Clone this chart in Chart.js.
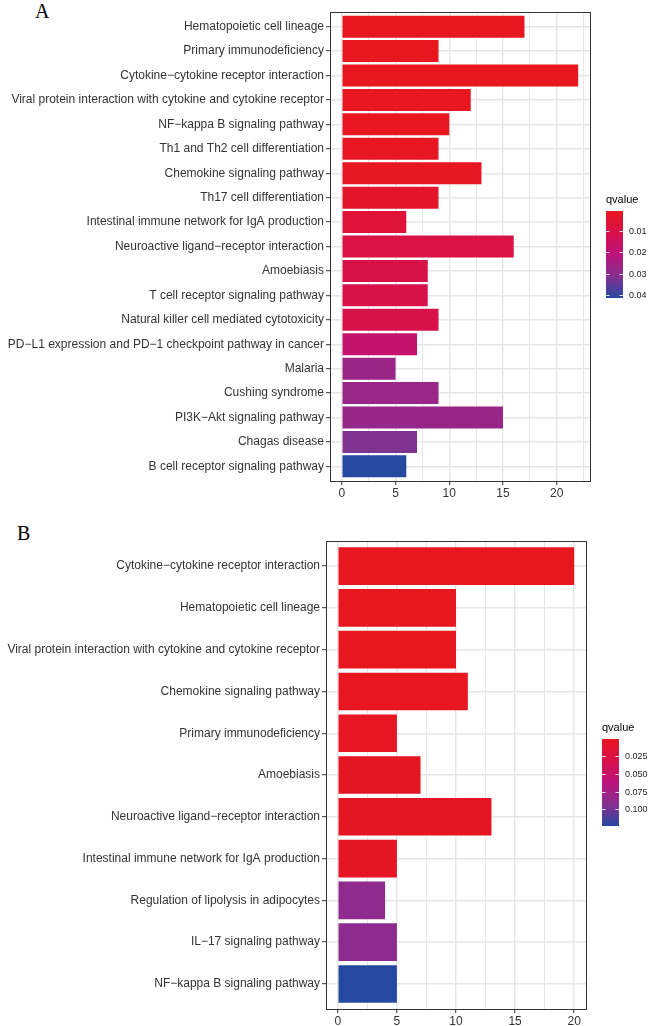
<!DOCTYPE html>
<html>
<head>
<meta charset="utf-8">
<script src="https://cdn.jsdelivr.net/npm/chart.js@4.4.1/dist/chart.umd.min.js"></script>
<style>
  html, body { margin: 0; padding: 0; background: #fff; overflow: hidden; }
  body { width: 649px; height: 1026px; position: relative; }
  canvas { position: absolute; left: 0; }
  .panel-tag { position: absolute; font-family: "Liberation Serif", "Times New Roman", serif; font-size: 20px; line-height: 1; color: #000; }
</style>
</head>
<body>
<div class="panel-tag" style="left:35px; top:1px;">A</div>
<canvas id="chart-a" width="649" height="498" style="top:0px;"></canvas>
<div class="panel-tag" style="left:17px; top:523px;">B</div>
<canvas id="chart-b" width="649" height="497" style="top:529px;"></canvas>

<script>
// Panel A - KEGG terms, gene counts, qvalues
const labelsA = [
  "Hematopoietic cell lineage",
  "Primary immunodeficiency",
  "Cytokine\u2212cytokine receptor interaction",
  "Viral protein interaction with cytokine and cytokine receptor",
  "NF\u2212kappa B signaling pathway",
  "Th1 and Th2 cell differentiation",
  "Chemokine signaling pathway",
  "Th17 cell differentiation",
  "Intestinal immune network for IgA production",
  "Neuroactive ligand\u2212receptor interaction",
  "Amoebiasis",
  "T cell receptor signaling pathway",
  "Natural killer cell mediated cytotoxicity",
  "PD\u2212L1 expression and PD\u22121 checkpoint pathway in cancer",
  "Malaria",
  "Cushing syndrome",
  "PI3K\u2212Akt signaling pathway",
  "Chagas disease",
  "B cell receptor signaling pathway"
];
const countA = [17, 9, 22, 12, 10, 9, 13, 9, 6, 16, 8, 8, 9, 7, 5, 9, 15, 7, 6];
const qvalueA = [0.0005, 0.0007, 0.0008, 0.0010, 0.0012, 0.0013, 0.0015, 0.0035, 0.0065, 0.0095,
                 0.0100, 0.0102, 0.0105, 0.0175, 0.0275, 0.0277, 0.0279, 0.0320, 0.0415];
const gridA = [0, 2.5, 5, 7.5, 10, 12.5, 15, 17.5, 20, 22.5];
const legendTicksA = [0.01, 0.02, 0.03, 0.04];
const legendLabelsA = ["0.01", "0.02", "0.03", "0.04"];

// Panel B
const labelsB = [
  "Cytokine\u2212cytokine receptor interaction",
  "Hematopoietic cell lineage",
  "Viral protein interaction with cytokine and cytokine receptor",
  "Chemokine signaling pathway",
  "Primary immunodeficiency",
  "Amoebiasis",
  "Neuroactive ligand\u2212receptor interaction",
  "Intestinal immune network for IgA production",
  "Regulation of lipolysis in adipocytes",
  "IL\u221217 signaling pathway",
  "NF\u2212kappa B signaling pathway"
];
const countB = [20, 10, 10, 11, 5, 7, 13, 5, 4, 5, 5];
const qvalueB = [0.0003, 0.0008, 0.0012, 0.0015, 0.0030, 0.0040, 0.0045, 0.0060, 0.0880, 0.0890, 0.1240];
const gridB = [0, 2.5, 5, 7.5, 10, 12.5, 15, 17.5, 20];
const legendTicksB = [0.025, 0.05, 0.075, 0.1];
const legendLabelsB = ["0.025", "0.050", "0.075", "0.100"];

// red -> blue gradient
const gradientStops = [
  [0.00, [232, 22, 30]],
  [0.25, [216, 17, 76]],
  [0.50, [187, 18, 124]],
  [0.75, [135, 48, 144]],
  [1.00, [37, 73, 160]]
];

function gradientColor(t) {
  t = Math.max(0, Math.min(1, t));
  for (let i = 1; i < gradientStops.length; i++) {
    const [t1, c1] = gradientStops[i];
    const [t0, c0] = gradientStops[i - 1];
    if (t <= t1) {
      const f = (t - t0) / (t1 - t0);
      const c = c0.map((v, k) => Math.round(v + (c1[k] - v) * f));
      return `rgb(${c[0]},${c[1]},${c[2]})`;
    }
  }
  const c = gradientStops[gradientStops.length - 1][1];
  return `rgb(${c[0]},${c[1]},${c[2]})`;
}

Chart.defaults.font.family = '"Liberation Sans", Arial, sans-serif';
Chart.defaults.animation = false;

// panel border + qvalue colour bar
const framePlugin = {
  id: "frame",
  afterDatasetsDraw(chart, args, opts) {
    const { ctx, chartArea: a } = chart;
    ctx.save();
    ctx.strokeStyle = "#333";
    ctx.lineWidth = 1;
    ctx.strokeRect(Math.round(a.left) + 0.5, Math.round(a.top) + 0.5,
                   Math.round(a.right - a.left), Math.round(a.bottom - a.top));

    const mid = (a.top + a.bottom) / 2;
    const barX = Math.round(a.right) + 16;
    const barW = 17;
    const barTop = Math.round(mid - 36);
    const barH = 87;

    ctx.fillStyle = "#000";
    ctx.font = '11px "Liberation Sans", Arial, sans-serif';
    ctx.textBaseline = "middle";
    ctx.textAlign = "left";
    ctx.fillText("qvalue", barX, mid - 47);

    for (let i = 0; i < barH; i++) {
      ctx.fillStyle = gradientColor((i + 0.5) / barH);
      ctx.fillRect(barX, barTop + i, barW, 1);
    }

    ctx.font = '9px "Liberation Sans", Arial, sans-serif';
    opts.ticks.forEach((v, i) => {
      const y = Math.round(barTop + (v - opts.qmin) / (opts.qmax - opts.qmin) * barH) + 0.5;
      ctx.strokeStyle = "rgba(255,255,255,0.85)";
      ctx.beginPath();
      ctx.moveTo(barX, y); ctx.lineTo(barX + 3.5, y);
      ctx.moveTo(barX + barW - 3.5, y); ctx.lineTo(barX + barW, y);
      ctx.stroke();
      ctx.fillStyle = "#222";
      ctx.fillText(opts.labels[i], barX + barW + 6, y);
    });
    ctx.restore();
  }
};

function makeChart(id, labels, counts, qvalues, gridVals, legendTicks, legendLabels, plotLeft, padRight) {
  const qmin = Math.min(...qvalues);
  const qmax = Math.max(...qvalues);
  const pad = Math.max(...counts) * 0.05;
  const colors = qvalues.map(q => gradientColor((q - qmin) / (qmax - qmin)));

  return new Chart(document.getElementById(id), {
    type: "bar",
    data: {
      datasets: [{
        data: counts.map((c, i) => ({ x: c, y: i })),
        backgroundColor: colors,
        borderWidth: 0,
        barPercentage: 0.9,
        categoryPercentage: 1
      }]
    },
    options: {
      indexAxis: "y",
      responsive: false,
      layout: { padding: { top: 12, right: padRight, left: 0, bottom: 0 } },
      plugins: {
        legend: { display: false },
        tooltip: { enabled: false },
        frame: { qmin, qmax, ticks: legendTicks, labels: legendLabels }
      },
      scales: {
        x: {
          type: "linear",
          min: -pad,
          max: Math.max(...counts) + pad,
          afterBuildTicks: s => { s.ticks = gridVals.map(v => ({ value: v })); },
          afterFit: s => { s.height = 17; },
          border: { display: false },
          grid: {
            color: "#E6E6E6",
            lineWidth: c => (c.tick && c.tick.value % 5 === 0) ? 1.4 : 1,
            tickLength: 4,
            tickWidth: 1,
            tickColor: c => (c.tick && c.tick.value % 5 === 0) ? "#333" : "rgba(0,0,0,0)"
          },
          ticks: {
            autoSkip: false,
            maxRotation: 0,
            padding: 1,
            color: "#333",
            font: { size: 12 },
            callback: v => (v % 5 === 0 ? String(v) : "")
          }
        },
        y: {
          type: "linear",
          reverse: true,
          offset: false,
          min: -0.6,
          max: labels.length - 1 + 0.6,
          afterBuildTicks: s => { s.ticks = labels.map((_, i) => ({ value: i })); },
          afterFit: s => { s.width = plotLeft; },
          border: { display: false },
          grid: {
            offset: false,
            color: "#E6E6E6",
            lineWidth: 1.4,
            tickLength: 4,
            tickWidth: 1,
            tickColor: "#333"
          },
          ticks: {
            autoSkip: false,
            padding: 2,
            color: "#333",
            font: { size: 12 },
            callback: v => labels[v]
          }
        }
      }
    },
    plugins: [framePlugin]
  });
}

makeChart("chart-a", labelsA, countA, qvalueA, gridA, legendTicksA, legendLabelsA, 330, 59);
makeChart("chart-b", labelsB, countB, qvalueB, gridB, legendTicksB, legendLabelsB, 326, 63);
</script>
</body>
</html>
